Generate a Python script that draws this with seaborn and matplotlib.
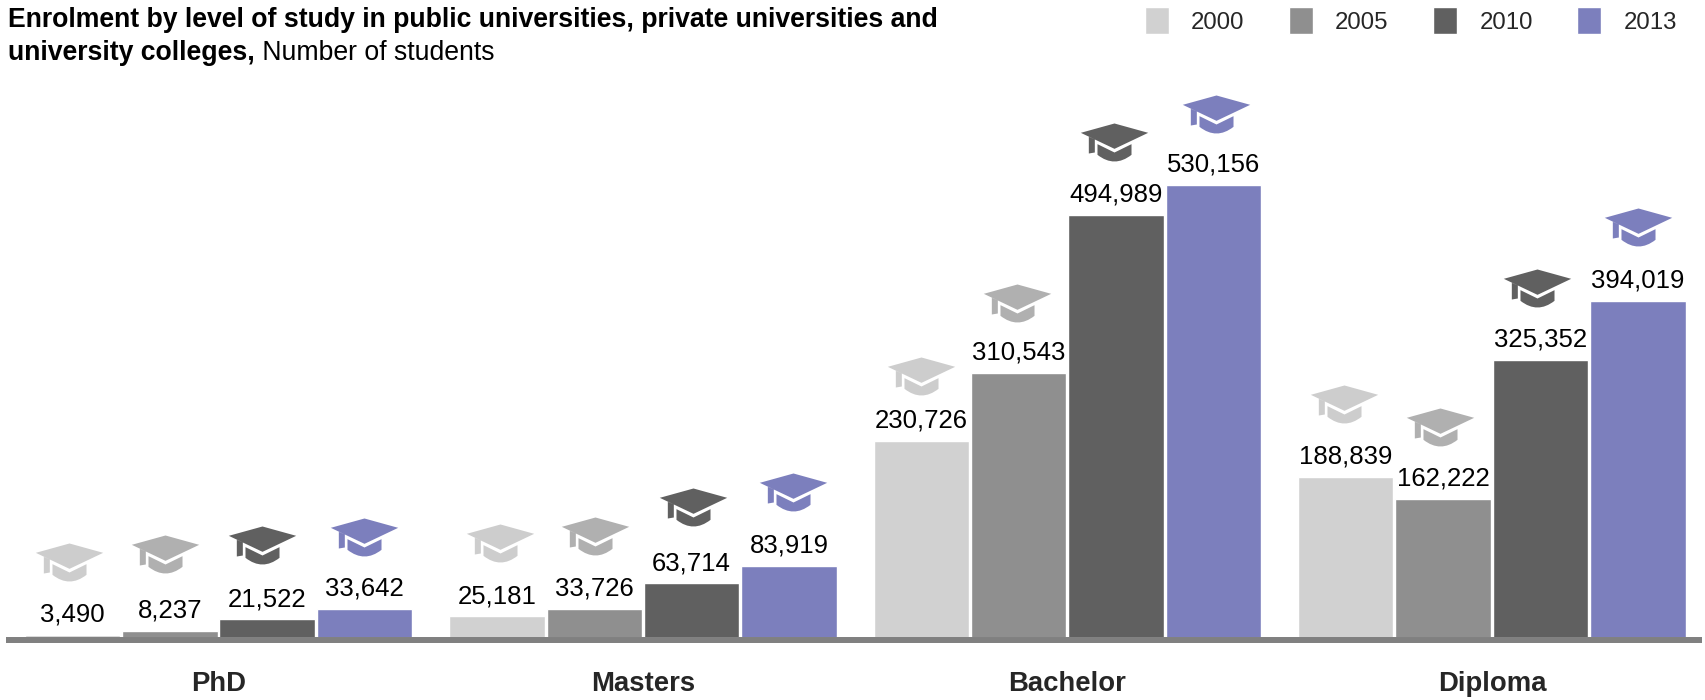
import pandas as pd
import matplotlib
matplotlib.use("Agg")
import matplotlib.pyplot as plt
import matplotlib.transforms as mtrans
from matplotlib.path import Path
import seaborn as sns

levels = ["PhD", "Masters", "Bachelor", "Diploma"]
years = ["2000", "2005", "2010", "2013"]
values_2000 = [3490, 25181, 230726, 188839]
values_2005 = [8237, 33726, 310543, 162222]
values_2010 = [21522, 63714, 494989, 325352]
values_2013 = [33642, 83919, 530156, 394019]

bar_colors = ["#d1d1d1", "#8f8f8f", "#606060", "#7c7fbd"]
hat_colors = ["#cdcdcd", "#b0b0b0", "#606060", "#7c7fbd"]

# hats don't sit exactly over the bars in the original, pixels per level/year
hat_nudge = [[-3, -5, -5, -1], [3, 1, 1, 4], [0, -2, -2, 2], [-2, -3, -4, 0]]
hat_lift = [[0, 4, 1, -1], [0, 0, 3, 1], [-8, -3, 0, -2], [0, -1, -1, 1]]

df = pd.DataFrame({
    "level": levels * 4,
    "year": [y for y in years for _ in levels],
    "students": values_2000 + values_2005 + values_2010 + values_2013,
})

sns.set_style("white")
plt.rcParams["font.family"] = ["Liberation Sans", "DejaVu Sans"]

# mortarboard marker
hat = Path(
    [(0, 57), (101, 29), (0, -19), (-101, 29), (0, 57),
     (-51, -5), (0, -30), (51, -5), (51, -37), (0, -77), (-51, -37), (-51, -5),
     (-77, 17), (-59, 9), (-59, -30), (-77, -33), (-77, 17)],
    [Path.MOVETO, Path.LINETO, Path.LINETO, Path.LINETO, Path.CLOSEPOLY,
     Path.MOVETO, Path.LINETO, Path.LINETO, Path.LINETO, Path.CURVE3, Path.CURVE3, Path.CLOSEPOLY,
     Path.MOVETO, Path.LINETO, Path.LINETO, Path.LINETO, Path.CLOSEPOLY],
)

fig = plt.figure(figsize=(17.05, 7), dpi=100)
ax = fig.add_axes([6 / 1705, 63 / 700, 1696 / 1705, 557 / 700])

sns.barplot(data=df, x="level", y="students", hue="year", order=levels, hue_order=years,
            palette=bar_colors, saturation=1, width=0.918, gap=0.02, ax=ax)

ax.set_xlabel("")
ax.set_ylabel("")
ax.set_yticks([])

sns.despine(ax=ax, left=True)
ax.spines["bottom"].set_color("#808080")
ax.spines["bottom"].set_linewidth(4.3)
ax.spines["bottom"].set_capstyle("butt")
ax.spines["bottom"].set_position(("outward", 2.2))

for i, bars in enumerate(ax.containers):
    ax.bar_label(bars, labels=[f"{b.get_height():,.0f}" for b in bars], padding=6, fontsize=18.5, color="black")
    for j, b in enumerate(bars):
        tr = mtrans.offset_copy(ax.transData, fig=fig, x=hat_nudge[j][i], y=73 + hat_lift[j][i], units="dots")
        ax.scatter([b.get_x() + b.get_width() / 2], [b.get_height()], marker=hat, s=2352,
                   color=hat_colors[i], linewidths=0, transform=tr, clip_on=False)

sns.move_legend(ax, "upper right", bbox_to_anchor=(1684 / 1705, 1), bbox_transform=fig.transFigure,
                ncols=4, title=None, frameon=False, fontsize=17.3, handlelength=1.02, handleheight=1.35,
                handletextpad=0.92, columnspacing=1.83, borderaxespad=0, borderpad=0.3)

fig.text(8 / 1705, 1 - 27 / 700, "Enrolment by level of study in public universities, private universities and",
         fontsize=19.2, fontweight="bold", color="black")
second = fig.text(8 / 1705, 1 - 59.5 / 700, "university colleges,", fontsize=19.2, fontweight="bold", color="black")
ax.annotate(" Number of students", xy=(1, 0), xycoords=second, fontsize=19.2, color="black",
            va="bottom", ha="left", annotation_clip=False)

# scatter resets the category ticks, so these go last
ax.set_xlim(-0.5006, 3.495)
ax.set_ylim(1000, 653100)
ax.set_xticks(range(4), levels, fontsize=19.8, fontweight="bold")
ax.tick_params(axis="x", length=0, pad=22.5)

plt.savefig("out.png", dpi=100)
